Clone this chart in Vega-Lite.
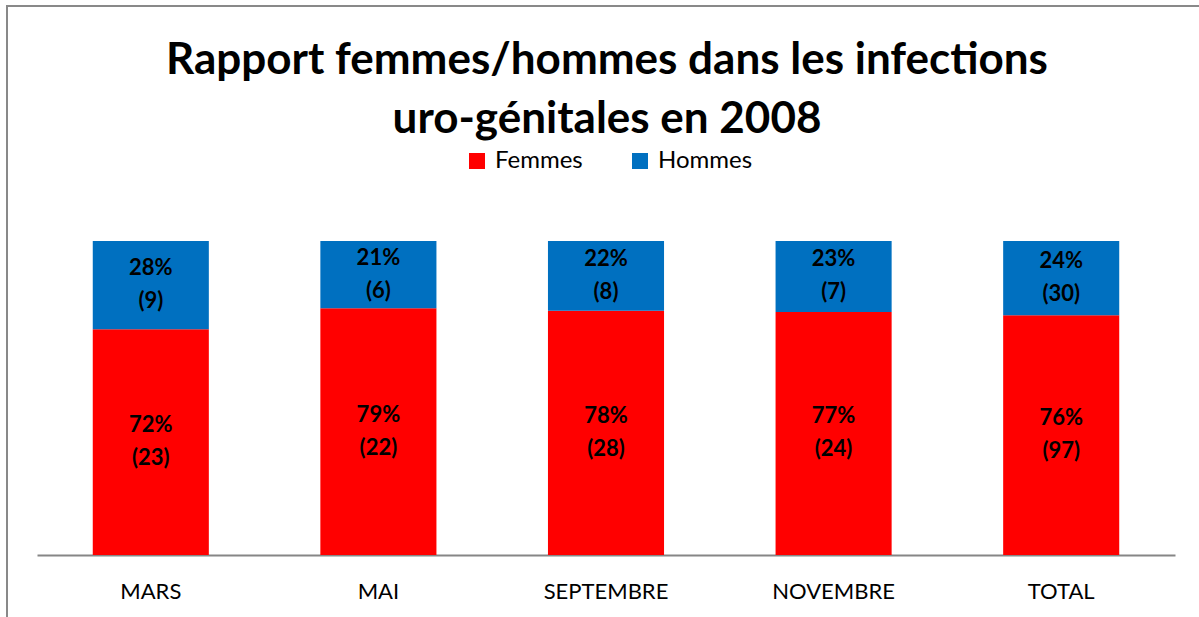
{
  "$schema": "https://vega.github.io/schema/vega-lite/v6.json",
  "autosize": "none",
  "padding": {"left": 7, "top": 6, "right": 0, "bottom": 0},
  "width": 1200,
  "height": 620,
  "background": "white",
  "config": {
    "view": {"stroke": "#898989", "strokeWidth": 2, "fill": "white"},
    "font": "Lato"
  },
  "title": {
    "text": ["Rapport femmes/hommes dans les infections", "uro-génitales en 2008"],
    "font": "Lato",
    "fontSize": 44,
    "fontWeight": "bold",
    "color": "black",
    "anchor": "middle",
    "baseline": "alphabetic",
    "lineHeight": 59,
    "offset": -171
  },
  "data": {
    "values": [
      {"mois": "MARS", "sexe": "Femmes", "n": 23},
      {"mois": "MARS", "sexe": "Hommes", "n": 9},
      {"mois": "MAI", "sexe": "Femmes", "n": 22},
      {"mois": "MAI", "sexe": "Hommes", "n": 6},
      {"mois": "SEPTEMBRE", "sexe": "Femmes", "n": 28},
      {"mois": "SEPTEMBRE", "sexe": "Hommes", "n": 8},
      {"mois": "NOVEMBRE", "sexe": "Femmes", "n": 24},
      {"mois": "NOVEMBRE", "sexe": "Hommes", "n": 7},
      {"mois": "TOTAL", "sexe": "Femmes", "n": 97},
      {"mois": "TOTAL", "sexe": "Hommes", "n": 30}
    ]
  },
  "transform": [
    {"stack": "n", "groupby": ["mois"], "sort": [{"field": "sexe", "order": "ascending"}], "offset": "normalize", "as": ["y0", "y1"]},
    {"calculate": "[format(datum.y1 - datum.y0, '.0%'), '(' + datum.n + ')']", "as": "label"},
    {"calculate": "(datum.y0 + datum.y1) / 2", "as": "ym"}
  ],
  "encoding": {
    "x": {
      "field": "mois",
      "type": "nominal",
      "sort": ["MARS", "MAI", "SEPTEMBRE", "NOVEMBRE", "TOTAL"],
      "scale": {"range": [30, 1168], "paddingInner": 0.49, "paddingOuter": 0.245},
      "axis": {
        "title": null,
        "labelAngle": 0,
        "labelFont": "Lato",
        "labelFontSize": 22,
        "labelColor": "black",
        "labelBaseline": "alphabetic",
        "labelPadding": 43,
        "ticks": false,
        "tickSize": 0,
        "domainColor": "#868686",
        "domainWidth": 2,
        "grid": false,
        "offset": -71
      }
    }
  },
  "layer": [
    {
      "mark": {"type": "bar"},
      "encoding": {
        "y": {
          "field": "y1",
          "type": "quantitative",
          "scale": {"domain": [0, 1], "range": [549, 235], "nice": false, "zero": true},
          "axis": null
        },
        "y2": {"field": "y0"},
        "color": {
          "field": "sexe",
          "type": "nominal",
          "scale": {"domain": ["Femmes", "Hommes"], "range": ["#FF0000", "#0070C0"]},
          "legend": {
            "title": null,
            "orient": "none",
            "direction": "horizontal",
            "legendX": 458,
            "legendY": 143,
            "symbolType": "square",
            "symbolSize": 256,
            "symbolStrokeWidth": 0,
            "labelFont": "Lato",
            "labelFontSize": 24,
            "labelColor": "black",
            "labelOffset": 6,
            "columnPadding": 45,
            "padding": 0
          }
        }
      }
    },
    {
      "mark": {"type": "text", "font": "Lato", "fontSize": 22, "fontWeight": "bold", "color": "black", "baseline": "alphabetic", "lineHeight": 33, "dy": -10},
      "encoding": {
        "y": {"field": "ym", "type": "quantitative", "axis": null},
        "text": {"field": "label"}
      }
    }
  ]
}
